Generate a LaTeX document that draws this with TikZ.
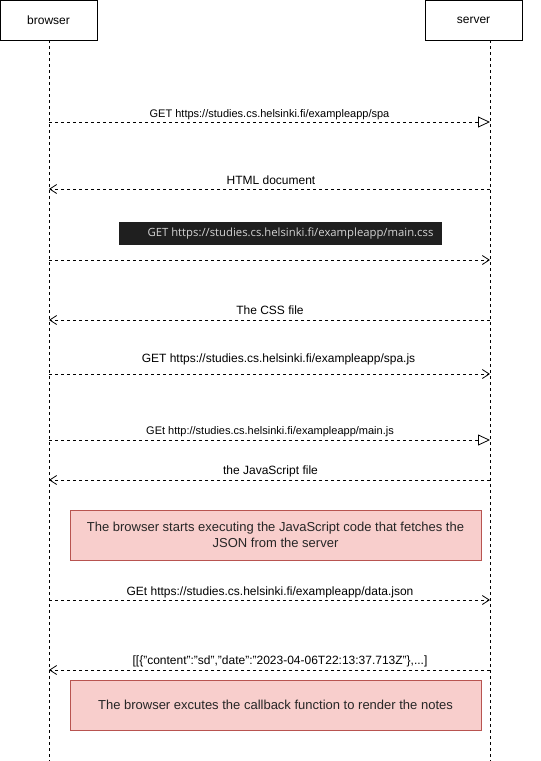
\documentclass[tikz,border=0pt]{standalone}
\usepackage{fontspec}
\setmainfont{Liberation Sans}
\newfontfamily\codefont{Open Sans}
\usetikzlibrary{arrows.meta}
\definecolor{notefill}{HTML}{F8CECC}
\definecolor{notedraw}{HTML}{B85450}
\definecolor{codebg}{HTML}{1F1F1F}
\definecolor{codefg}{HTML}{D4D4D4}
\begin{document}
\begin{tikzpicture}[x=1pt,y=-1pt,
  actor/.style={draw,line width=0.8pt,minimum width=97pt,minimum height=40pt,inner sep=0pt,font=\fontsize{12}{14}\selectfont},
  lifeline/.style={dash pattern=on 3pt off 3pt,line width=0.7pt},
  msg/.style={dash pattern=on 3pt off 3pt,line width=0.7pt},
  callmsg/.style={msg,-{Triangle[open,length=12pt,width=11pt,line width=0.8pt]}},
  openmsg/.style={msg,-{Straight Barb[length=7pt,width=9pt,line width=0.8pt]}},
  lbl/.style={font=\fontsize{12}{14}\selectfont,inner sep=0pt,anchor=base},
  smalllbl/.style={lbl,font=\fontsize{11}{13}\selectfont},
  notebox/.style={draw=notedraw,fill=notefill,line width=0.8pt,minimum width=411pt,minimum height=50pt,inner sep=0pt,align=center,font=\fontsize{13}{16}\selectfont,text=black!85}
]
\useasboundingbox (0,0) rectangle (541,761);

% participants
\node[actor] (browser) at (48.5,20) {browser};
\node[actor] (server) at (473.5,20) {server};

% lifelines
\coordinate (bend) at (49,761);
\coordinate (send) at (490,761);
\draw[lifeline] (49,40) -- (bend);
\draw[lifeline] (490,40) -- (send);

% message anchors on both lifelines
\foreach \n/\y in {1/122,2/189,3/260,4/320,5/374,6/440,7/480,9/600,10/670}{
  \coordinate (b\n) at (49,\y);
  \coordinate (s\n) at (490,\y);
}

% messages
\draw[callmsg] (b1) -- (s1);
\node[smalllbl] (l1) at (269.5,117) {GET https://studies.cs.helsinki.fi/exampleapp/spa};

\draw[openmsg] (s2) -- (b2);
\node[lbl] (l2) at (271,184) {HTML document};

\node[fill=codebg,text=codefg,minimum width=323pt,minimum height=23pt,inner sep=0pt,font=\codefont\fontsize{11.3}{13}\selectfont] (l3) at (280.5,233.5) {\hspace*{20pt}GET https://studies.cs.helsinki.fi/exampleapp/main.css};
\draw[openmsg] (b3) -- (s3);

\draw[openmsg] (s4) -- (b4);
\node[lbl] (l4) at (270,314) {The CSS file};

\draw[openmsg] (b5) -- (s5);
\node[lbl] (l5) at (278.5,362) {GET https://studies.cs.helsinki.fi/exampleapp/spa.js};

\draw[callmsg] (b6) -- (s6);
\node[smalllbl] (l6) at (270,434) {GEt http://studies.cs.helsinki.fi/exampleapp/main.js};

\draw[openmsg] (s7) -- (b7);
\node[lbl] (l7) at (270.5,474) {the JavaScript file};

\node[notebox] (n1) at (275.5,535) {The browser starts executing the JavaScript code that fetches the\\JSON from the server};

\draw[openmsg] (b9) -- (s9);
\node[lbl] (l9) at (270,595) {GEt https://studies.cs.helsinki.fi/exampleapp/data.json};

\draw[openmsg] (s10) -- (b10);
\node[lbl] (l10) at (280,664) {[[\{"content":"sd","date":"2023-04-06T22:13:37.713Z"\},...]};

\node[notebox] (n2) at (275.5,705) {The browser excutes the callback function to render the notes};
\end{tikzpicture}
\end{document}
